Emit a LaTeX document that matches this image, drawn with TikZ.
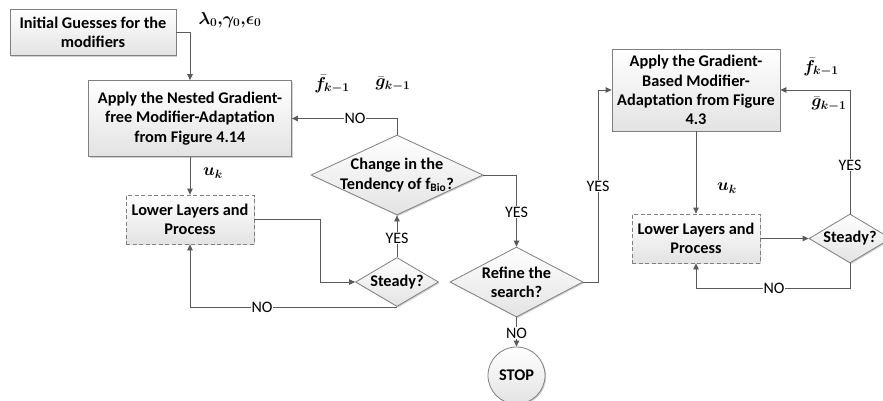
\documentclass[tikz,border=0pt]{standalone}
\usepackage{amsmath,bm}
\usepackage{fontspec}
\setmainfont{Carlito}
\usetikzlibrary{arrows.meta,shapes.geometric,shadows}
\definecolor{linegray}{HTML}{5A5A5A}
\definecolor{edgegray}{HTML}{808080}
\begin{document}
\begin{tikzpicture}[x=1pt,y=-1pt,
  txt/.style={font=\fontsize{16.3}{19.3}\selectfont\bfseries, align=center},
  shade/.style={top color=white, bottom color=black!11},
  shad/.style={drop shadow={shadow xshift=1.2pt, shadow yshift=-1.2pt, fill=black, opacity=0.18}},
  box/.style={rectangle, draw=edgegray, line width=0.8pt, shade, shad, txt, inner sep=0pt},
  dbox/.style={box, dash pattern=on 4pt off 2.5pt},
  dia/.style={diamond, draw=edgegray, line width=0.8pt, shade, shad, inner sep=0pt},
  dtext/.style={txt, inner sep=0pt},
  stopc/.style={circle, draw=edgegray, line width=0.8pt, shade, shad, txt, minimum size=57pt, inner sep=0pt},
  conn/.style={draw=linegray, line width=0.8pt},
  arr/.style={conn, -{Triangle[length=6pt, width=5.5pt]}},
  lab/.style={fill=white, inner sep=1pt, font=\fontsize{16}{18}\selectfont},
  mlab/.style={inner sep=0pt, font=\fontsize{18}{21}\selectfont}
]
\fill[white] (0,0) rectangle (883,401);
\useasboundingbox (0,0) rectangle (883,401);

% left loop: gradient-free modifier adaptation
\node[box, minimum width=166pt, minimum height=46pt] (init) at (93,32.5) {Initial Guesses for the\\modifiers};
\node[box, minimum width=203pt, minimum height=76pt] (nest) at (190,118.5) {Apply the Nested Gradient-\\free Modifier-Adaptation\\from Figure 4.14};
\node[dbox, minimum width=128pt, minimum height=49pt] (low1) at (190,219.5) {Lower Layers and\\Process};
\node[dia, minimum width=83pt, minimum height=49pt] (st1) at (397,282) {};
\node[dtext] (st1T) at (st1) {Steady?};
\node[dia, minimum width=172pt, minimum height=80pt] (chg) at (397,175) {};
\node[dtext] (chgT) at (chg) {Change in the\\Tendency of f\textsubscript{Bio}?};

% centre: refinement decision
\node[dia, minimum width=133pt, minimum height=70pt] (ref) at (516.5,282) {};
\node[dtext] (refT) at (ref) {Refine the\\search?};
\node[stopc] (stop) at (516.5,375.5) {STOP};

% right loop: gradient-based modifier adaptation
\node[box, minimum width=168pt, minimum height=82pt] (grad) at (696,90) {Apply the Gradient-\\Based Modifier-\\Adaptation from Figure\\4.3};
\node[dbox, minimum width=128pt, minimum height=49pt] (low2) at (696,238.5) {Lower Layers and\\Process};
\node[dia, minimum width=82pt, minimum height=49pt] (st2) at (850,238.5) {};
\node[dtext] (st2T) at (st2) {Steady?};

\coordinate (l1r) at (320,219.5);
\coordinate (rr) at (598,282);
\coordinate (s2b) at (850,288);

% connectors
\draw[arr] (init.east) -| (nest.north);
\draw[arr] (nest.south) -- (low1.north);
\draw[arr] (low1.east) -- (l1r) |- (st1.west);
\draw[arr] (st1.south) -| (low1.south);
\draw[arr] (st1.north) -- (chg.south);
\draw[arr] (chg.north) |- (nest.east);
\draw[arr] (chg.east) -| (ref.north);
\draw[arr] (ref.east) -- (rr) |- (grad.west);
\draw[arr] (ref.south) -- (stop.north);
\draw[arr] (grad.south) -- (low2.north);
\draw[arr] (low2.east) -- (st2.west);
\draw[arr] (st2.south) -- (s2b) -| (low2.south);
\draw[arr] (st2.north) |- (grad.east);

% connector labels
\node[lab] (n1) at (262,307) {NO};
\node[lab] (y1) at (397,238) {YES};
\node[lab] (n2) at (355,118.5) {NO};
\node[lab] (y2) at (516.5,212) {YES};
\node[lab] (y3) at (598,186) {YES};
\node[lab] (n3) at (516.5,333) {NO};
\node[lab] (n4) at (774,288) {NO};
\node[lab] (y4) at (850,165) {YES};

% signal labels
\node[mlab] (m0) at (230,20) {$\bm{\lambda_0{,}\gamma_0{,}\epsilon_0}$};
\node[mlab, anchor=west] (uk1) at (203,173) {$\bm{u_k}$};
\node[mlab] (fa) at (332,84) {$\bm{\bar{f}_{k-1}}$};
\node[mlab] (ga) at (393,84) {$\bm{\bar{g}_{k-1}}$};
\node[mlab, anchor=west] (uk2) at (717,188) {$\bm{u_k}$};
\node[mlab] (fb) at (821,67) {$\bm{\bar{f}_{k-1}}$};
\node[mlab] (gb) at (829,104) {$\bm{\bar{g}_{k-1}}$};
\end{tikzpicture}
\end{document}
